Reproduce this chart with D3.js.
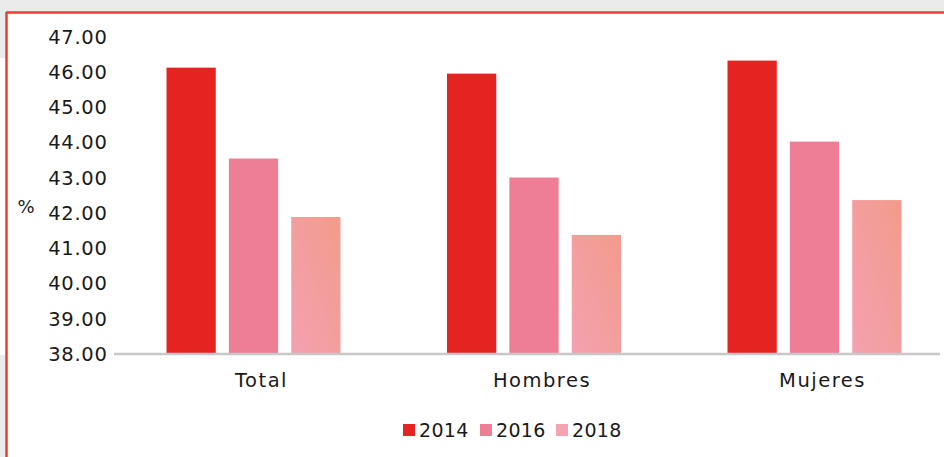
<!DOCTYPE html>
<html><head><meta charset="utf-8">
<script src="https://cdn.jsdelivr.net/npm/d3@7"></script>
<style>html,body{margin:0;padding:0;background:#fff;overflow:hidden}</style>
</head><body>
<svg id="c" width="944" height="457"></svg>
<script>
const categories = ["Total", "Hombres", "Mujeres"];
const years = ["2014", "2016", "2018"];
const values2014 = [46.13, 45.96, 46.33];
const values2016 = [43.55, 43.01, 44.03];
const values2018 = [41.89, 41.38, 42.37];
const yTicks = [38, 39, 40, 41, 42, 43, 44, 45, 46, 47];
const series = [values2014, values2016, values2018];
const colors = ["#e52421", "#ee7d96", "url(#g2018)"];
const legendColors = ["#e52421", "#ee7d96", "#f4a3b0"];

const svg = d3.select("#c");
const font = "'DejaVu Sans', sans-serif";

// frame / page background
svg.append("rect").attr("x",0).attr("y",0).attr("width",944).attr("height",12).attr("fill","#ebebeb");
svg.append("rect").attr("x",0).attr("y",0).attr("width",6).attr("height",58).attr("fill","#ebebeb");
svg.append("rect").attr("x",0).attr("y",355).attr("width",6).attr("height",102).attr("fill","#ebebeb");
svg.append("line").attr("x1",6).attr("x2",944).attr("y1",12.5).attr("y2",12.5).attr("stroke","#ee3b36").attr("stroke-width",2.5);
svg.append("line").attr("x1",6.5).attr("x2",6.5).attr("y1",12).attr("y2",457).attr("stroke","#ee3b36").attr("stroke-width",2.5);

const defs = svg.append("defs");
const g = defs.append("linearGradient").attr("id","g2018").attr("x1","0").attr("y1","1").attr("x2","1").attr("y2","0");
g.append("stop").attr("offset","0").attr("stop-color","#f4a1b1");
g.append("stop").attr("offset","1").attr("stop-color","#f29b8b");

const y = d3.scaleLinear().domain([38, 47]).range([354, 37]);
const x0 = d3.scaleBand().domain(categories).range([113.25, 954.75]).paddingInner(0).paddingOuter(0);
const x1 = d3.scaleBand().domain(years).range([53.25, x0.bandwidth() - 53.25]).paddingInner(0.21).paddingOuter(0);

// y axis labels
const yAxis = d3.axisLeft(y).tickValues(yTicks).tickFormat(d3.format(".2f")).tickSize(0).tickPadding(0);
const ya = svg.append("g").attr("transform","translate(107.5,0)").call(yAxis);
ya.select(".domain").remove();
ya.selectAll("text").attr("font-family",font).attr("font-size",19.5).attr("letter-spacing",0.7).attr("fill","#1a1a1a");

svg.append("text").attr("x",26).attr("y",208).attr("text-anchor","middle").attr("dominant-baseline","middle")
  .attr("font-family",font).attr("font-size",18).attr("fill","#1a1a1a").text("%");

// bars
const groups = svg.append("g").selectAll("g").data(categories).join("g")
  .attr("transform", d => `translate(${x0(d)},0)`);
groups.selectAll("rect").data((d, i) => years.map((yr, j) => ({yr, v: series[j][i], j})))
  .join("rect")
  .attr("x", d => x1(d.yr)).attr("width", x1.bandwidth())
  .attr("y", d => y(d.v)).attr("height", d => y(38) - y(d.v))
  .attr("fill", d => colors[d.j]);

// x axis
const xAxis = d3.axisBottom(x0).tickSize(0).tickPadding(0);
const xa = svg.append("g").attr("transform","translate(0,354)").call(xAxis);
xa.select(".domain").attr("stroke","#c8c8c8").attr("stroke-width",2.5).attr("d","M114,0H940");
xa.selectAll("text").attr("font-family",font).attr("font-size",19.5).attr("letter-spacing",1.5).attr("fill","#1a1a1a").attr("dy","0").attr("y",33);
xa.selectAll(".tick").attr("transform", d => `translate(${x0(d)+x0.bandwidth()/2+8},0)`);

// legend
const lg = svg.append("g");
const lx = [403, 480, 556];
years.forEach((yr, i) => {
  lg.append("rect").attr("x", lx[i]).attr("y", 424).attr("width", 12).attr("height", 12).attr("fill", legendColors[i]);
  lg.append("text").attr("x", lx[i] + 16).attr("y", 437).attr("font-family", font).attr("font-size", 19).attr("letter-spacing", 0.3).attr("fill","#1a1a1a").text(yr);
});
</script>
</body></html>
